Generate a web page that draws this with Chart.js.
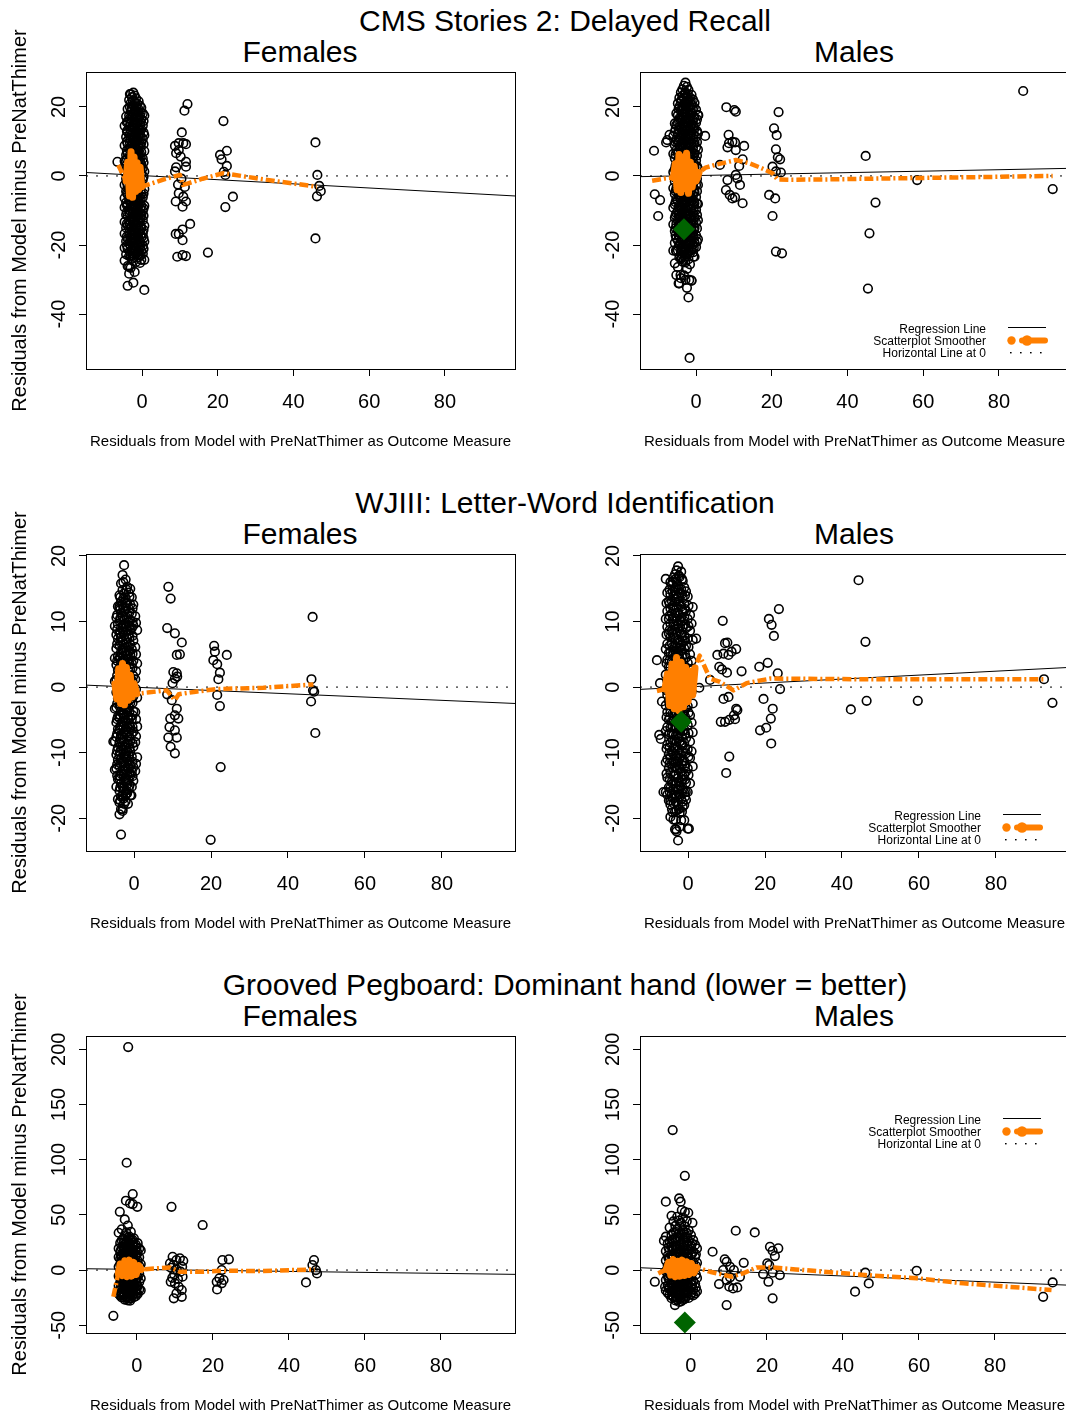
<!DOCTYPE html>
<html>
<head>
<meta charset="utf-8">
<script src="https://cdn.jsdelivr.net/npm/chart.js@4/dist/chart.umd.min.js"></script>
<style>
body { margin: 0; background: #fff; }
#page { position: relative; width: 1066px; height: 1414px; overflow: hidden; background: #fff; }
#page canvas { position: absolute; }
.title { position: absolute; font-family: "Liberation Sans", Arial, sans-serif; font-size: 30px; line-height: 30px; white-space: nowrap; transform: translateX(-50%); color: #000; }
</style>
</head>
<body>
<div id="page"></div>
<script>
//titles and axis texts
let rowTitles = ['CMS Stories 2: Delayed Recall', 'WJIII: Letter-Word Identification', 'Grooved Pegboard: Dominant hand (lower = better)']
let panelTitles = ['Females', 'Males']
let xTitle = 'Residuals from Model with PreNatThimer as Outcome Measure'
let yTitle = 'Residuals from Model minus PreNatThimer'
let legendLabels = ['Regression Line', 'Scatterplot Smoother', 'Horizontal Line at 0']

//tick labels
let xTicks = [0, 20, 40, 60, 80]
let cmsYTicks = [-40, -20, 0, 20]
let wjYTicks = [-20, -10, 0, 10, 20]
let gpYTicks = [-50, 0, 50, 100, 150, 200]

//axis limits of each row
let cmsXRange = [-14.8, 98.5]
let cmsYRange = [-55.9, 30.1]
let wjXRange = [-12.5, 99.0]
let wjYRange = [-25.0, 20.3]
let gpXRange = [-13.4, 99.5]
let gpYRange = [-57, 212]

//---------------- CMS Stories 2 ----------------
//dense column near 0: [x, list of y]
let cmsFemCore = [
    [-4.6, [14.5, 8.8, 4.3, 1.2, -2.6, -6.4, -9.1, -13.3, -16.7, -20.8, -24.5]],
    [-4.2, [17.2, 11.3, 6.1, 3.0, -0.8, -4.4, -7.7, -11.2, -15.0, -18.9, -22.7]],
    [-4.0, [15.5, 13.0, 10.0, 7.4, 4.9, 2.1, -1.9, -5.0, -8.5, -10.4, -13.8, -17.5, -20.1]],
    [-3.8, [19.4, 15.8, 12.7, 9.3, 6.6, 2.8, 0.1, -2.9, -5.4, -8.2, -11.6, -14.3, -18.1, -21.0, -26.1, -31.8]],
    [-3.4, [22.0, 17.5, 14.3, 11.0, 7.9, 4.6, 1.7, -1.5, -4.1, -6.8, -9.9, -12.9, -16.4, -19.6, -23.2, -28.3]],
    [-3.2, [20.0, 16.7, 12.1, 9.6, 6.0, 3.3, 0.0, -2.3, -4.6, -7.4, -11.0, -14.0, -17.0, -19.0, -21.9]],
    [-3.0, [23.6, 21.1, 18.6, 15.5, 13.3, 10.4, 8.5, 5.7, 3.9, 1.0, -0.7, -3.6, -5.3, -8.1, -10.2, -13.1, -15.0, -17.9, -20.2, -23.4, -26.6]],
    [-2.65, [22.8, 19.7, 16.9, 14.1, 11.9, 9.2, 6.8, 4.6, 2.2, -0.1, -2.6, -4.9, -7.4, -9.6, -12.3, -14.6, -16.8, -19.0, -21.5, -24.0]],
    [-2.45, [21.8, 17.3, 13.9, 11.2, 8.0, 4.1, 1.6, -1.2, -3.3, -5.9, -8.3, -10.9, -13.4, -15.7, -18.3, -20.8, -23.1]],
    [-2.3, [24.1, 20.4, 18.2, 14.9, 12.6, 10.6, 7.3, 5.4, 2.6, 0.7, -2.1, -4.0, -6.9, -8.8, -11.8, -14.0, -17.2, -19.3, -22.6, -24.7, -30.9]],
    [-1.95, [23.3, 21.4, 19.0, 16.2, 13.8, 11.4, 8.9, 6.1, 3.5, 1.4, -1.1, -3.3, -6.0, -8.1, -10.9, -13.0, -15.7, -18.2, -21.0, -23.5, -27.8]],
    [-1.75, [21.1, 18.1, 15.5, 12.3, 10.2, 7.6, 5.3, 2.9, 0.4, -1.9, -4.3, -6.5, -9.0, -11.2, -13.9, -16.4, -19.2, -21.7]],
    [-1.6, [22.5, 20.0, 16.8, 14.6, 11.6, 9.5, 6.5, 4.7, 1.8, -0.4, -2.5, -5.3, -7.2, -10.1, -12.0, -15.2, -17.3, -20.4, -22.6, -24.9]],
    [-1.25, [20.9, 17.8, 15.3, 12.9, 10.1, 7.7, 5.1, 2.7, 0.2, -2.0, -4.6, -6.9, -9.4, -11.8, -14.3, -16.9, -19.5, -22.0]],
    [-1.05, [19.6, 17.0, 14.1, 11.8, 9.0, 6.6, 4.4, 1.8, -0.5, -3.0, -5.2, -7.8, -10.3, -12.6, -15.1, -17.6, -20.3]],
    [-0.9, [21.6, 18.5, 16.2, 13.2, 11.1, 8.1, 5.9, 3.1, 1.2, -1.6, -3.7, -6.6, -8.5, -11.4, -13.5, -16.5, -18.3, -21.8, -23.6]],
    [-0.55, [20.3, 17.4, 14.8, 12.1, 9.3, 6.3, 4.0, 1.9, -0.9, -3.0, -5.8, -8.0, -10.7, -12.9, -15.8, -18.9, -20.7, -25.2]],
    [-0.35, [18.4, 15.6, 11.0, 8.4, 5.3, 2.4, -1.4, -3.9, -6.7, -9.6, -12.2, -14.4, -16.9, -19.8, -22.9]],
    [-0.2, [19.8, 16.4, 13.5, 9.6, 6.9, 3.4, 1.0, -2.4, -5.1, -8.6, -11.4, -15.1, -17.8, -21.6, -24.3]],
    [0.2, [18.1, 14.6, 10.8, 5.0, 2.3, -1.1, -6.2, -10.1, -12.8, -16.7, -20.2, -22.5]],
    [0.4, [15.9, 12.6, 9.2, 3.9, -0.2, -5.1, -9.4, -11.5, -15.6, -18.0, -21.1]],
    [0.6, [17.5, 11.8, 7.2, 1.3, -3.8, -8.6, -14.4, -19.0, -24.3, -33.0]]
]
let cmsFemPts = [
    [-6.5, 4.1], [-3.2, 23.7], [-3.4, -26.3],
    [12.0, 20.8], [11.2, 18.9], [10.5, 12.6], [8.7, 8.7], [9.7, 9.5], [10.9, 9.5], [11.6, 9.2], [9.0, 6.6], [9.7, 7.5],
    [10.2, 5.6], [11.6, 4.1], [11.6, 2.7], [9.0, 2.5], [8.7, 1.3], [10.4, -0.8], [9.5, -2.5], [11.3, -3.2], [9.7, -5.0],
    [10.9, -6.0], [8.9, -7.4], [11.6, -7.4], [10.7, -8.9], [12.7, -13.9], [10.7, -15.5], [8.9, -16.8], [9.7, -16.8],
    [10.7, -18.6], [9.3, -23.4], [10.7, -22.9], [11.6, -23.2], [17.4, -22.2],
    [21.5, 15.9], [22.4, 7.3], [20.6, 6.1], [21.0, 4.8], [22.4, 2.9], [22.0, 0.3], [21.6, 1.2], [24.0, -6.0], [22.0, -9.0],
    [45.8, 9.7], [46.3, 0.3], [46.8, -2.9], [47.2, -4.4], [46.2, -5.9], [45.8, -18.1]
]
let cmsFemSmooth = [[-6.3, 3.2], [-4.2, -1.5], [-0.1, -3.1], [3, -2.0], [6, -0.9], [10, 0.3], [10.8, -2.6], [12, -2.2], [16, -0.8], [21.5, 0.8], [28, -0.3], [36, -1.6], [46.2, -3.1]]
let cmsFemBlob = [[-4.2, -1.5], [-3.8, 4.0], [-3.3, -5.8], [-2.9, 7.0], [-2.5, -6.2], [-2.1, 5.5], [-1.7, -4.5], [-1.3, 3.8], [-0.9, -3.9], [-0.5, 2.5], [-0.1, -3.1]]
let cmsFemReg = [[-14.8, 1.0], [98.5, -5.8]]

let cmsMaleCore = [
    [-6.0, [11.6, 6.4, 1.1, -3.5, -9.2, -14.0, -21.6]],
    [-5.6, [15.2, 12.8, 8.9, 5.1, 1.9, -1.6, -5.2, -8.3, -12.1, -16.0, -19.4, -25.3]],
    [-5.4, [13.5, 9.8, 6.2, 2.9, -0.6, -4.4, -7.6, -11.4, -15.1, -17.2]],
    [-5.2, [18.1, 14.8, 10.6, 7.5, 3.5, 0.4, -3.6, -6.7, -10.8, -13.9, -18.0, -21.8, -28.7]],
    [-4.8, [21.0, 17.6, 15.4, 12.1, 9.7, 6.5, 4.0, 1.3, -1.5, -4.3, -7.1, -10.0, -12.8, -15.8, -18.7, -21.5, -26.4]],
    [-4.6, [19.4, 16.2, 13.3, 10.2, 7.3, 4.6, 2.0, -0.9, -3.5, -5.4, -9.1, -11.3, -14.7, -17.0, -20.5]],
    [-4.4, [22.6, 20.1, 16.7, 14.2, 10.9, 8.6, 5.3, 2.9, -0.3, -2.7, -6.0, -8.4, -11.8, -14.1, -17.5, -19.9, -23.6, -31.1]],
    [-4.0, [24.2, 21.5, 18.9, 16.1, 13.6, 11.0, 8.1, 6.5, 3.7, 1.5, -1.2, -3.8, -6.6, -9.0, -11.6, -14.5, -16.8, -19.3, -21.9, -24.0, -29.6]],
    [-3.8, [22.1, 19.3, 16.6, 14.0, 11.7, 9.0, 6.3, 3.6, 1.0, -1.8, -4.2, -6.1, -8.3, -10.9, -13.6, -16.3, -18.5, -21.2, -23.6]],
    [-3.6, [25.1, 23.2, 20.2, 17.9, 15.0, 12.9, 9.9, 7.8, 4.8, 2.7, -0.2, -2.4, -5.4, -7.5, -10.5, -12.6, -15.6, -17.7, -20.7, -22.8, -24.8]],
    [-3.2, [26.1, 22.5, 19.6, 17.0, 14.6, 12.0, 10.6, 8.4, 5.6, 3.3, 0.6, -1.8, -4.5, -6.9, -9.6, -12.0, -14.8, -17.0, -19.9, -22.1, -24.3, -28.8]],
    [-3.0, [23.8, 20.9, 18.3, 15.7, 13.1, 10.2, 7.3, 4.8, 2.0, -0.5, -3.0, -5.6, -8.0, -10.7, -13.2, -15.8, -18.2, -20.9, -23.4]],
    [-2.8, [27.0, 24.2, 21.4, 19.3, 16.3, 14.2, 11.2, 9.1, 6.1, 4.0, 1.0, -1.1, -4.1, -6.2, -9.2, -11.3, -14.3, -16.4, -19.5, -21.5, -25.0, -30.1]],
    [-2.4, [25.8, 23.0, 20.8, 18.2, 15.6, 13.3, 10.5, 8.0, 5.3, 2.9, 0.2, -2.3, -4.9, -7.3, -10.0, -12.4, -15.1, -17.5, -20.2, -22.6, -26.9, -32.4]],
    [-2.2, [23.6, 21.5, 19.0, 16.4, 14.1, 11.5, 9.0, 6.0, 3.6, 0.9, -1.6, -4.1, -6.6, -9.3, -11.7, -14.4, -16.9, -19.6, -22.3]],
    [-2.0, [24.9, 22.0, 19.8, 16.9, 14.7, 11.8, 9.6, 6.7, 4.5, 1.6, -0.6, -3.5, -5.7, -8.6, -10.8, -13.7, -15.9, -18.8, -21.0, -24.1, -35.2]],
    [-1.6, [22.7, 20.2, 18.0, 15.9, 13.2, 10.7, 8.3, 5.6, 3.0, 0.4, -2.2, -4.8, -7.1, -9.5, -12.2, -14.5, -17.2, -19.7, -22.3, -25.6]],
    [-1.4, [21.7, 19.3, 16.5, 14.2, 11.7, 9.1, 6.4, 4.1, 1.6, -1.2, -3.4, -6.2, -8.6, -11.4, -13.8, -16.4, -18.9, -21.6]],
    [-1.2, [23.5, 20.6, 18.2, 15.0, 12.6, 9.4, 7.0, 3.8, 1.4, -1.8, -4.2, -7.4, -9.8, -13.0, -15.4, -18.6, -21.2, -30.3]],
    [-0.8, [22.1, 19.1, 16.2, 13.6, 10.9, 8.2, 5.4, 2.8, -0.1, -2.9, -5.6, -8.4, -11.0, -13.9, -16.6, -19.9, -22.1]],
    [-0.6, [19.9, 16.8, 14.6, 11.9, 9.2, 6.0, 3.5, 0.8, -1.8, -4.6, -7.3, -10.1, -12.8, -15.6, -18.0, -20.8]],
    [-0.4, [21.2, 17.0, 13.7, 9.7, 6.5, 2.5, -0.7, -4.7, -7.9, -11.9, -15.1, -19.2, -23.4]],
    [0.0, [19.2, 15.4, 11.3, 8.3, 4.5, 0.7, -2.6, -6.1, -9.8, -13.5, -17.2, -20.6]],
    [0.25, [16.4, 13.0, 9.8, 5.9, 2.8, -0.9, -4.4, -8.0, -11.3, -15.2, -19.0]],
    [0.5, [17.6, 12.3, 7.6, 2.1, -2.6, -8.1, -12.8, -18.3]]
]
let cmsMalePts = [
    [-11.1, 7.3], [-10.9, -5.3], [-9.5, -7.0], [-10.0, -11.6], [-7.6, 10.4], [-7.9, 9.7], [-7.0, 11.9], [2.4, 11.6], [0.6, 17.6],
    [-4.1, -28.7], [-4.6, -31.1], [-1.8, -30.1], [-1.2, -30.3], [-1.7, -52.7], [-5.3, -21.6], [-0.7, -23.4],
    [8.0, 19.9], [10.1, 19.1], [10.5, 18.6], [8.6, 11.9], [8.7, 9.5], [9.6, 9.9], [10.3, 9.7], [12.7, 8.7], [8.3, 8.3], [10.5, 7.5],
    [6.3, 3.2], [12.3, 4.8], [11.4, 2.9], [10.5, 0.3], [10.9, -0.7], [11.6, -2.6], [8.3, -1.2], [7.9, -4.1], [8.9, -5.5],
    [9.6, -6.5], [10.3, -6.2], [12.3, -7.9],
    [21.8, 18.5], [20.6, 13.8], [21.3, 11.8], [21.1, 7.7], [21.6, 5.4], [22.2, 4.8], [20.2, 2.7], [21.1, 1.3], [22.4, 1.0],
    [19.3, -5.5], [20.9, -6.5], [20.2, -11.6], [21.1, -21.9], [22.7, -22.4],
    [44.8, 5.8], [47.4, -7.7], [45.8, -16.6], [45.4, -32.6], [58.4, -1.2], [86.4, 24.6], [94.2, -3.8]
]
let cmsMaleSmooth = [[-11.6, -1.4], [-8.0, -0.7], [-6.0, -0.5], [0.8, 1.0], [2.5, 2.4], [5, 3.2], [7, 3.7], [10.5, 4.6], [14, 3.7], [17, 2.4], [20.2, 0.8], [21.5, -1.0], [25, -1.1], [35, -1.0], [45.5, -0.8], [58, -0.6], [70.5, -0.4], [94.2, 0]]
let cmsMaleBlob = [[-6.0, -0.5], [-5.5, 3.5], [-5.0, -4.0], [-4.5, 6.2], [-4.0, -4.8], [-3.5, 5.4], [-3.0, -3.6], [-2.5, 6.6], [-2.0, -5.0], [-1.5, 4.0], [-1.0, -3.2], [-0.5, 2.8], [0.0, -1.5], [0.8, 1.0]]
let cmsMaleReg = [[-14.8, -0.2], [98.5, 2.2]]
let cmsMaleMark = [[-3.2, -15.4]]

//---------------- WJIII Letter-Word ----------------
let wjFemCore = [
    [-5.0, [9.3, 4.4, 0.9, -3.3, -8.3, -12.6]],
    [-4.6, [10.6, 8.0, 5.9, 3.4, 1.1, -0.8, -3.1, -5.4, -7.6, -10.3, -12.4, -15.2]],
    [-4.4, [11.0, 8.8, 6.6, 4.0, 1.8, -0.4, -2.5, -4.9, -7.1, -9.7, -11.8, -13.5]],
    [-4.2, [12.3, 9.6, 7.4, 4.7, 2.6, 0.1, -1.7, -4.5, -6.4, -9.2, -11.1, -14.0, -17.1]],
    [-3.8, [14.0, 12.0, 10.1, 8.3, 6.3, 4.4, 2.6, 0.8, -1.0, -2.9, -4.7, -6.6, -8.4, -10.3, -12.1, -14.0, -15.8, -17.6, -19.4]],
    [-3.6, [13.7, 11.8, 10.5, 8.1, 6.8, 4.6, 3.1, 1.1, -0.6, -2.6, -4.3, -6.2, -7.9, -9.9, -11.6, -13.6, -15.3, -17.3]],
    [-3.4, [15.8, 13.0, 11.3, 9.0, 7.5, 5.3, 3.8, 1.6, 0.1, -2.1, -3.6, -5.8, -7.3, -9.5, -11.0, -13.2, -14.7, -16.7, -18.6, -22.5]],
    [-3.0, [17.1, 14.8, 12.6, 10.8, 9.1, 7.0, 5.6, 3.3, 1.9, -0.4, -1.6, -3.9, -5.3, -7.6, -9.0, -11.3, -12.7, -15.1, -16.6, -18.9]],
    [-2.8, [16.0, 13.5, 12.1, 9.5, 8.4, 6.0, 4.7, 2.5, 1.2, -1.2, -2.4, -4.2, -6.0, -8.0, -9.6, -11.6, -13.4, -15.4, -17.0]],
    [-2.6, [18.6, 14.3, 11.6, 10.2, 7.9, 6.5, 4.2, 2.8, 0.5, -0.9, -3.2, -4.6, -6.9, -8.3, -10.6, -12.0, -14.3, -15.7, -17.8]],
    [-2.2, [16.4, 13.6, 12.0, 9.6, 8.4, 6.0, 4.8, 2.3, 1.0, -1.4, -2.7, -5.1, -6.4, -8.8, -10.1, -12.6, -13.9, -16.4, -17.4]],
    [-2.0, [14.9, 12.9, 10.6, 9.2, 6.8, 5.6, 3.2, 2.0, -0.5, -1.8, -3.2, -5.5, -6.9, -9.2, -10.6, -12.9, -14.2, -15.8]],
    [-1.8, [15.3, 12.8, 11.1, 8.8, 7.4, 5.1, 3.7, 1.4, 0.0, -2.3, -3.7, -6.0, -7.4, -9.7, -11.1, -13.4, -14.8, -16.2]],
    [-1.4, [14.4, 12.0, 9.9, 8.0, 6.1, 4.3, 2.4, 0.6, -1.3, -3.1, -5.0, -6.8, -8.7, -10.5, -12.4, -14.2, -15.6]],
    [-1.2, [13.8, 11.4, 9.4, 7.5, 5.5, 3.5, 1.8, -0.2, -2.0, -3.8, -5.6, -7.6, -9.3, -11.4, -13.1, -15.0]],
    [-1.0, [15.0, 12.6, 10.2, 8.7, 6.5, 5.0, 2.8, 1.3, -0.9, -2.4, -4.6, -6.1, -8.3, -9.8, -12.0, -13.5, -16.5]],
    [-0.6, [13.7, 11.2, 9.0, 5.8, 3.6, 0.4, -1.7, -4.9, -7.1, -10.6, -12.9, -15.2]],
    [-0.4, [12.0, 10.0, 7.8, 5.1, 2.9, 0.9, -2.4, -4.3, -6.1, -8.6, -11.4, -13.6]],
    [-0.2, [12.6, 9.4, 7.1, 4.0, 1.7, -1.4, -3.7, -6.8, -9.1, -12.2, -14.3]],
    [0.3, [10.8, 6.1, 1.2, -3.8, -8.4, -12.8]],
    [0.5, [9.8, 5.0, 2.4, -0.3, -4.9, -7.5, -11.7]],
    [0.8, [8.7, 3.6, -1.6, -6.0, -10.7]]
]
let wjFemPts = [
    [-5.4, -8.3], [-3.8, 12.3], [-1.6, -17.8], [-3.0, -18.6], [-2.0, -16.2], [-0.7, -16.5],
    [8.9, 15.3], [9.5, 13.5], [8.6, 9.0], [10.6, 8.2], [12.4, 6.8], [11.1, 4.9], [11.9, 5.0], [10.2, 2.3], [11.1, 2.1],
    [10.6, 1.3], [10.0, 0.6], [11.2, 1.6], [8.6, -1.1], [9.8, -2.0], [11.1, -3.3], [10.6, -4.3], [11.5, -4.8], [9.4, -4.8],
    [9.2, -6.1], [10.6, -6.6], [8.9, -7.7], [11.1, -7.7], [9.5, -9.1], [10.6, -10.1],
    [20.8, 6.3], [21.0, 5.4], [24.1, 4.9], [20.6, 4.1], [21.6, 3.5], [22.3, 2.2], [21.9, 1.2], [21.6, -1.2], [22.3, -2.9],
    [22.5, -12.2], [19.9, -23.3],
    [46.4, 10.7], [46.1, 1.2], [46.5, -0.5], [46.8, -0.7], [46.0, -2.2], [47.1, -7.0]
]
let wjFemSmooth = [[-5.0, 0.5], [0.7, -1.0], [4, -0.8], [8.5, -0.5], [10.6, -2.0], [11.6, -1.1], [16, -0.7], [21.5, -0.3], [33.6, -0.1], [46.6, 0.4]]
let wjFemBlob = [[-5.0, 0.5], [-4.5, -1.8], [-4.0, 2.8], [-3.5, -2.5], [-3.0, 3.6], [-2.5, -2.7], [-2.0, 3.0], [-1.5, -2.0], [-1.0, 1.8], [-0.5, -1.5], [0.0, 0.5], [0.7, -1.0]]
let wjFemReg = [[-12.5, 0.3], [99.0, -2.5]]

let wjMaleCore = [
    [-5.8, [16.5, 10.4, 5.8, 1.9, -2.8, -6.7, -11.5, -16.0]],
    [-5.6, [12.8, 8.0, 3.6, -0.5, -4.6, -9.4, -13.2]],
    [-5.4, [14.4, 11.6, 9.2, 6.6, 4.2, 1.0, -1.2, -3.8, -6.1, -8.8, -11.0, -13.8, -16.4]],
    [-5.0, [13.1, 10.4, 8.2, 5.2, 3.1, 0.1, -2.1, -5.0, -7.2, -10.2, -12.3, -15.3, -17.3]],
    [-4.8, [14.9, 12.7, 10.9, 8.7, 6.3, 4.1, 1.9, -0.5, -2.7, -4.6, -7.0, -9.2, -11.6, -14.0, -16.0]],
    [-4.6, [16.0, 14.2, 12.0, 9.7, 7.6, 5.3, 3.0, 0.8, -1.6, -3.9, -6.2, -8.5, -10.8, -13.1, -15.4, -17.9, -19.8]],
    [-4.2, [15.6, 13.1, 11.2, 8.6, 6.7, 4.0, 2.1, -0.6, -2.5, -5.2, -7.1, -9.8, -11.7, -14.4, -16.3, -18.6]],
    [-4.0, [16.1, 14.6, 12.4, 10.4, 8.1, 6.1, 4.8, 2.5, 0.3, -1.8, -4.0, -6.0, -8.1, -10.1, -12.3, -14.7, -16.9, -19.1]],
    [-3.8, [16.7, 14.0, 11.9, 9.6, 7.6, 5.4, 3.3, 1.2, -0.9, -3.0, -5.1, -7.2, -9.3, -11.4, -13.5, -15.6, -17.7, -20.2]],
    [-3.4, [17.2, 14.7, 13.0, 10.5, 8.8, 6.3, 4.6, 2.1, 0.4, -2.1, -3.8, -6.3, -8.0, -10.5, -12.2, -14.7, -16.4, -19.0, -21.7]],
    [-3.2, [16.5, 15.2, 13.5, 11.3, 9.3, 7.3, 5.2, 3.2, 1.0, -1.0, -3.1, -5.2, -7.4, -9.2, -11.3, -13.4, -15.5, -17.5, -20.3]],
    [-3.0, [17.8, 16.1, 14.1, 12.2, 10.1, 8.1, 6.1, 4.0, 2.0, 0.0, -2.2, -4.2, -6.3, -8.3, -10.4, -12.4, -14.5, -16.6, -18.8, -22.0]],
    [-2.6, [18.4, 15.6, 13.8, 11.3, 9.6, 7.1, 5.4, 2.9, 1.2, -1.3, -3.0, -5.5, -7.2, -9.7, -11.4, -13.9, -15.6, -18.1, -23.4]],
    [-2.4, [17.0, 15.0, 13.1, 11.0, 9.0, 6.8, 4.8, 2.5, 0.6, -1.8, -3.6, -6.0, -7.8, -10.1, -12.0, -14.4, -16.3, -18.6]],
    [-2.2, [16.8, 14.4, 12.7, 10.2, 8.5, 6.0, 4.3, 1.8, 0.1, -2.4, -4.1, -6.6, -8.3, -10.8, -12.5, -15.0, -16.7, -19.2, -21.3]],
    [-1.8, [17.6, 14.9, 12.3, 10.6, 8.1, 6.4, 3.9, 2.2, -0.3, -2.0, -4.5, -6.2, -8.7, -10.4, -12.9, -14.6, -17.1, -20.3]],
    [-1.6, [16.5, 14.2, 11.8, 10.0, 7.6, 5.6, 3.3, 1.2, -0.9, -3.0, -5.4, -7.5, -9.8, -11.9, -14.1, -16.2, -19.0]],
    [-1.4, [16.2, 13.7, 11.5, 9.2, 7.1, 4.9, 2.6, 0.4, -2.0, -4.1, -6.7, -8.9, -11.2, -13.6, -15.7, -18.3]],
    [-1.0, [15.2, 12.7, 10.7, 7.9, 5.9, 3.1, 1.1, -1.7, -3.7, -6.5, -8.5, -11.3, -13.3, -16.1, -18.0]],
    [-0.8, [14.0, 11.9, 9.6, 7.1, 5.0, 2.4, 0.1, -2.4, -4.5, -7.1, -9.3, -12.0, -14.1, -16.7]],
    [-0.55, [14.6, 11.6, 9.0, 6.3, 4.5, 1.9, -0.6, -3.2, -5.0, -7.8, -10.1, -12.9, -14.6, -17.2]],
    [-0.1, [13.8, 10.4, 7.4, 3.7, 0.8, -2.9, -5.8, -9.5, -12.4, -16.0, -21.6]],
    [0.1, [12.4, 9.3, 6.1, 2.8, -0.4, -3.9, -7.0, -10.6, -13.4]],
    [0.5, [11.0, 8.6, 5.0, 0.7, -4.3, -8.3, -10.8, -14.7]],
    [0.9, [9.7, 4.0, -0.7, -5.4, -9.8]],
    [1.2, [12.2, 7.2, 2.8, -2.5, -6.9, -12.1]]
]
let wjMalePts = [
    [-8.1, 4.1], [-6.8, -2.2], [-7.5, -7.3], [-7.1, -7.9], [-7.3, 0.6], [2.9, -0.1], [2.1, 7.4], [-3.1, -21.7], [0.2, -21.6],
    [-1.0, -20.3], [-6.4, -16.0], [-4.6, -17.3], [-1.5, -17.5], [-0.6, -16.0],
    [9.0, 10.1], [9.6, 6.7], [10.2, 6.8], [7.6, 4.9], [9.2, 5.1], [10.5, 4.9], [12.5, 5.8], [11.3, 5.4], [8.1, 3.1], [8.8, 2.7],
    [10.1, 2.2], [13.9, 2.4], [5.7, 1.1], [9.2, -1.8], [10.5, -1.5], [12.5, -3.3], [12.8, -3.5], [11.9, -4.3], [8.5, -5.3],
    [9.6, -5.3], [10.7, -5.0], [12.2, -4.9], [10.7, -10.6], [9.9, -13.1],
    [21.0, 10.4], [21.7, 9.5], [22.3, 7.8], [23.6, 11.9], [18.5, 3.1], [20.7, 3.7], [23.3, 2.1], [23.9, -0.3], [19.6, -1.8],
    [22.0, -3.3], [21.5, -4.8], [20.3, -6.2], [18.7, -6.6], [21.6, -8.6],
    [44.3, 16.3], [46.1, 6.9], [42.3, -3.4], [46.4, -2.1], [59.7, -2.1], [92.5, 1.2], [94.7, -2.4]
]
let wjMaleSmooth = [[-8.1, -0.6], [-6.0, -0.3], [1.8, 2.9], [3.0, 4.8], [5.7, 1.3], [8.3, 0.8], [11.8, -0.5], [15.2, 0.6], [19.6, 1.1], [21.5, 1.3], [45, 1.2], [60, 1.2], [92.5, 1.2]]
let wjMaleBlob = [[-6.0, -0.3], [-5.4, 2.0], [-4.8, -2.8], [-4.2, 3.5], [-3.6, -3.3], [-3.0, 4.5], [-2.4, -3.6], [-1.8, 3.8], [-1.2, -3.0], [-0.6, 3.0], [0.0, -2.2], [0.6, 2.4], [1.2, -1.2], [1.8, 2.9]]
let wjMaleReg = [[-12.5, -0.35], [99.0, 3.0]]
let wjMaleMark = [[-1.8, -5.3]]

//---------------- Grooved Pegboard ----------------
let gpFemCore = [
    [-4.8, [33.8, 19.6, 11.8, 2.9, -5.3, -14.2, -21.5]],
    [-4.4, [24.6, 16.5, 10.1, 5.2, -0.4, -5.9, -11.2, -17.0, -23.1]],
    [-4.2, [18.0, 12.9, 7.0, 0.5, -3.9, -10.0, -15.6, -20.6]],
    [-4.0, [36.9, 27.0, 20.1, 13.2, 8.2, 2.1, -2.8, -8.8, -13.9, -20.1, -24.8]],
    [-3.6, [28.4, 21.3, 15.0, 9.9, 4.7, -0.1, -5.0, -10.2, -14.9, -19.6, -24.3]],
    [-3.4, [25.0, 18.5, 12.6, 7.1, 1.2, -3.5, -8.1, -12.9, -17.5, -22.5]],
    [-3.2, [45.9, 31.5, 23.4, 17.9, 12.0, 7.7, 2.3, -1.9, -7.4, -11.5, -16.8, -21.0, -26.7]],
    [-2.8, [34.1, 25.8, 19.9, 14.4, 9.6, 4.8, -0.4, -5.2, -9.8, -14.8, -19.4, -24.5]],
    [-2.6, [27.0, 21.0, 15.2, 10.4, 3.5, -2.6, -6.8, -11.1, -16.3, -21.2, -25.4]],
    [-2.4, [40.3, 29.2, 22.4, 16.1, 11.3, 5.5, 1.2, -4.2, -8.3, -13.7, -17.9, -23.3, -27.5]],
    [-2.0, [30.3, 24.0, 18.7, 13.2, 8.5, 3.0, -1.0, -6.5, -10.6, -16.1, -20.3, -25.8]],
    [-1.8, [28.5, 21.8, 16.4, 10.9, 6.2, 0.6, -4.4, -8.9, -13.2, -17.7, -22.6]],
    [-1.6, [34.7, 26.5, 19.6, 14.4, 8.4, 3.8, -1.8, -6.1, -11.6, -15.8, -21.3, -25.6]],
    [-1.2, [27.5, 22.6, 17.3, 11.8, 6.4, 1.6, -3.3, -8.5, -13.6, -18.4, -23.2]],
    [-1.0, [24.8, 18.4, 13.1, 7.8, 2.9, -2.5, -7.0, -12.1, -17.1, -20.2]],
    [-0.8, [28.8, 21.2, 15.5, 9.3, 4.6, -1.1, -5.6, -11.3, -15.7, -21.5, -24.5]],
    [-0.3, [23.1, 17.8, 12.4, 7.0, 2.0, -3.2, -8.8, -13.3, -18.6, -23.7]],
    [-0.1, [20.5, 14.0, 5.3, -0.9, -7.3, -11.8, -16.7, -20.9]],
    [0.2, [24.4, 15.6, 8.5, 0.4, -6.5, -14.6, -21.6]],
    [0.6, [19.6, 11.5, 3.9, -3.4, -10.9, -17.5]],
    [1.0, [17.8, 5.4, -7.6, -18.3]]
]
let gpFemPts = [
    [-2.3, 202], [-2.7, 97.2], [-1.1, 68.8], [-2.9, 62.8], [-1.8, 60.4], [0.1, 57.3], [-1.1, 59.8], [-4.5, 52.8],
    [-1.8, -27.8], [-6.2, -41.4],
    [9.1, 57.3], [9.4, 12.0], [11.3, 10.6], [10.4, 9.1], [12.2, 8.4], [8.7, 6.1], [9.6, 4.5], [11.9, 3.0], [9.0, 2.0],
    [10.5, 0.5], [11.5, -1.5], [9.8, -4.0], [12.0, -6.0], [9.3, -7.0], [10.8, -8.0], [8.9, -10.6], [10.0, -12.0],
    [11.0, -15.1], [11.8, -18.1], [10.4, -21.1], [9.7, -25.6], [11.8, -24.2], [17.3, 40.8],
    [22.5, 9.1], [24.2, 9.7], [22.3, 0.0], [21.7, -7.5], [22.8, -9.0], [21.0, -10.6], [22.3, -12.0], [21.1, -17.5],
    [46.6, 9.1], [46.2, 4.5], [47.1, 0.0], [47.4, -3.0], [44.5, -11.2]
]
let gpFemSmooth = [[-6.2, -24.2], [-4.9, -3.0], [1.2, 0.6], [8.7, 2.4], [11.3, -1.5], [17.5, -1.5], [22.7, -0.6], [33, -0.9], [46.8, 0.6]]
let gpFemBlob = [[-4.9, -3.0], [-4.4, 5.5], [-3.8, -5.0], [-3.2, 8.5], [-2.6, -6.0], [-2.0, 9.0], [-1.4, -5.5], [-0.8, 7.0], [-0.2, -4.0], [0.5, 4.0], [1.2, 0.6]]
let gpFemReg = [[-13.4, 1.2], [99.5, -3.9]]

let gpMaleCore = [
    [-6.6, [30.2, 17.2, 8.6, -0.9, -9.1, -18.5]],
    [-6.1, [24.1, 13.2, 4.0, -5.1, -13.8, -20.6]],
    [-5.9, [20.3, 10.9, 1.6, -7.3, -16.3]],
    [-5.6, [38.5, 25.6, 17.5, 9.8, 3.7, -3.2, -9.0, -16.1, -22.4]],
    [-5.1, [31.8, 21.4, 13.8, 6.9, 0.3, -6.0, -12.6, -19.2, -25.5]],
    [-4.9, [27.5, 18.9, 10.7, 4.2, -2.7, -9.6, -16.3, -22.9]],
    [-4.6, [44.1, 33.9, 24.5, 18.2, 11.2, 5.7, -0.8, -6.1, -12.6, -17.8, -24.3]],
    [-4.1, [40.0, 29.1, 21.8, 14.9, 8.3, 2.5, -3.6, -9.4, -15.4, -21.2, -27.5]],
    [-3.9, [34.5, 26.4, 18.6, 11.9, 5.6, -0.9, -7.3, -12.9, -18.9, -24.6]],
    [-3.6, [48.2, 37.1, 29.2, 21.3, 15.4, 8.6, 3.2, -3.3, -8.6, -15.1, -20.4, -26.9]],
    [-3.1, [44.9, 33.3, 25.7, 18.6, 12.2, 5.8, -0.2, -6.1, -11.8, -17.7, -23.4, -28.9]],
    [-2.9, [38.9, 29.9, 22.6, 15.6, 9.1, 2.6, -3.4, -9.2, -14.8, -20.5, -26.2]],
    [-2.6, [42.7, 32.8, 24.3, 18.1, 11.1, 5.5, -1.1, -6.4, -12.9, -18.2, -24.7, -28.3]],
    [-2.1, [47.6, 36.2, 27.7, 20.9, 14.3, 8.1, 2.0, -3.9, -9.7, -15.6, -21.5, -27.0]],
    [-1.9, [34.0, 25.2, 17.6, 11.2, 4.9, -1.0, -7.0, -12.9, -18.8, -24.4]],
    [-1.6, [39.5, 30.1, 21.7, 15.6, 8.7, 3.1, -3.5, -8.9, -15.4, -20.7, -26.0]],
    [-1.1, [44.3, 33.8, 24.5, 17.6, 11.8, 5.9, -0.1, -6.0, -12.1, -18.0, -23.6]],
    [-0.9, [29.9, 21.6, 14.6, 8.8, 2.8, -3.1, -9.1, -15.1, -21.0]],
    [-0.6, [35.8, 26.0, 19.0, 11.6, 5.8, -1.1, -6.7, -13.5, -19.1, -25.3]],
    [0.0, [31.7, 22.1, 13.8, 7.9, 2.0, -4.0, -10.0, -16.2, -22.1]],
    [0.3, [24.0, 14.8, 4.8, -3.3, -13.6, -20.3]],
    [0.6, [27.1, 16.7, 7.3, -0.6, -9.8, -17.7, -23.0]],
    [1.1, [22.8, 11.9, 1.5, -12.4, -21.3]],
    [1.3, [14.3, 3.9, -4.1, -15.9]],
    [1.6, [19.6, 6.6, -7.1, -19.2]]
]
let gpMalePts = [
    [-4.8, 126.8], [-1.6, 85.4], [-3.1, 64.9], [-2.7, 61.9], [-6.6, 61.9], [-5.1, 49.2], [-1.6, 52.8], [-0.7, 51.9],
    [0.4, 42.8], [-2.4, 54.3], [-7.1, 26.6], [-9.5, -10.6], [-6.8, -15.1], [5.7, 16.6], [-4.2, -31.7],
    [11.8, 35.6], [16.8, 34.1], [13.9, 6.6], [8.9, 9.7], [9.4, 7.5], [10.3, 3.0], [11.3, 0.0], [8.5, 0.0], [7.4, -12.7],
    [9.4, -9.1], [10.1, -15.1], [11.1, -16.6], [12.2, -15.7], [12.9, -6.1], [10.3, -6.6], [9.4, -31.7],
    [20.8, 21.1], [21.5, 17.5], [23.0, 19.7], [22.1, 12.7], [20.1, 6.1], [20.6, 4.5], [19.0, -3.6], [23.4, -4.5],
    [21.5, -2.4], [20.4, -10.6], [21.5, -25.6],
    [43.2, -19.6], [45.9, -2.4], [46.8, -12.1], [59.4, -0.6], [92.7, -24.2], [95.2, -11.2]
]
let gpMaleSmooth = [[-8.6, -3.0], [-6.5, 0.5], [1.5, 2.4], [5.0, -1.5], [10.7, -6.0], [13.7, -3.0], [17.3, 2.4], [21.7, 2.4], [27.6, 0.6], [45.8, -4.5], [59.4, -7.5], [71.7, -12.0], [94.9, -18.1]]
let gpMaleBlob = [[-6.5, 0.5], [-5.9, 7.0], [-5.3, -4.5], [-4.7, 9.5], [-4.1, -6.0], [-3.5, 8.0], [-2.9, -5.5], [-2.3, 9.0], [-1.7, -5.0], [-1.1, 7.5], [-0.5, -4.0], [0.1, 6.0], [0.8, -2.5], [1.5, 2.4]]
let gpMaleReg = [[-13.4, 2.1], [99.5, -13.7]]
let gpMaleMark = [[-1.6, -47.4]]

//---------------- layout ----------------
let fontFamily = '"Liberation Sans", Arial, Helvetica, sans-serif'
let orange = '#FF7F00'
let green = '#006400'
let rowHeight = 482
let canvasW = 540
let canvasH = 482
let panelLeft = [0, 554]

let rows = [
    {xRange: cmsXRange, yRange: cmsYRange, yTicks: cmsYTicks, legend: {dx: 346, dy: 258}},
    {xRange: wjXRange, yRange: wjYRange, yTicks: wjYTicks, legend: {dx: 341, dy: 263}},
    {xRange: gpXRange, yRange: gpYRange, yTicks: gpYTicks, legend: {dx: 341, dy: 85}}
]
let panels = [
    {row: 0, side: 0, core: cmsFemCore, pts: cmsFemPts, smooth: cmsFemSmooth, blob: cmsFemBlob, reg: cmsFemReg},
    {row: 0, side: 1, core: cmsMaleCore, pts: cmsMalePts, smooth: cmsMaleSmooth, blob: cmsMaleBlob, reg: cmsMaleReg, mark: cmsMaleMark},
    {row: 1, side: 0, core: wjFemCore, pts: wjFemPts, smooth: wjFemSmooth, blob: wjFemBlob, reg: wjFemReg},
    {row: 1, side: 1, core: wjMaleCore, pts: wjMalePts, smooth: wjMaleSmooth, blob: wjMaleBlob, reg: wjMaleReg, mark: wjMaleMark},
    {row: 2, side: 0, core: gpFemCore, pts: gpFemPts, smooth: gpFemSmooth, blob: gpFemBlob, reg: gpFemReg},
    {row: 2, side: 1, core: gpMaleCore, pts: gpMalePts, smooth: gpMaleSmooth, blob: gpMaleBlob, reg: gpMaleReg, mark: gpMaleMark}
]

let page = document.getElementById('page')

//turning [x, y] pairs into chart points
function toXY(list) {
    return list.map(function(p) { return {x: p[0], y: p[1]} })
}
//turning the dense column lanes into chart points
function flattenCore(lanes) {
    let out = []
    lanes.forEach(function(lane) {
        lane[1].forEach(function(y) { out.push({x: lane[0], y: y}) })
    })
    return out
}

function addTitle(text, left, top) {
    let el = document.createElement('div')
    el.className = 'title'
    el.textContent = text
    el.style.left = left + 'px'
    el.style.top = top + 'px'
    page.appendChild(el)
}

//small R style legend in the male panels
function drawLegend(ctx, a, lg) {
    let tx = a.left + lg.dx
    let ty = a.top + lg.dy
    ctx.font = '12px ' + fontFamily
    ctx.fillStyle = '#000'
    ctx.textAlign = 'right'
    ctx.textBaseline = 'middle'
    legendLabels.forEach(function(t, i) { ctx.fillText(t, tx, ty + i * 12) })
    let sx = tx + 22
    //regression line
    ctx.strokeStyle = '#000'
    ctx.lineWidth = 1
    ctx.beginPath()
    ctx.moveTo(sx, ty - 2.5)
    ctx.lineTo(sx + 38, ty - 2.5)
    ctx.stroke()
    //smoother
    ctx.fillStyle = orange
    ctx.beginPath()
    ctx.arc(sx + 3.5, ty + 10.5, 4.2, 0, Math.PI * 2)
    ctx.fill()
    ctx.strokeStyle = orange
    ctx.lineWidth = 6
    ctx.lineCap = 'round'
    ctx.beginPath()
    ctx.moveTo(sx + 14, ty + 10.5)
    ctx.lineTo(sx + 37, ty + 10.5)
    ctx.stroke()
    ctx.beginPath()
    ctx.arc(sx + 19, ty + 10.5, 5.2, 0, Math.PI * 2)
    ctx.fill()
    //dotted zero line
    ctx.fillStyle = '#000'
    for (let k = 0; k < 4; k++) {
        ctx.fillRect(sx + 2 + k * 10, ty + 22, 1.6, 1.4)
    }
}

//box, rotated y labels and legend, drawn after the points
function rStyle(yTicks, legend) {
    return {
        id: 'rStyle',
        afterDatasetsDraw: function(chart) {
            let ctx = chart.ctx
            let a = chart.chartArea
            ctx.save()
            ctx.strokeStyle = '#000'
            ctx.lineWidth = 1
            ctx.strokeRect(Math.round(a.left) + 0.5, Math.round(a.top) + 0.5, Math.round(a.right - a.left), Math.round(a.bottom - a.top))
            let ys = chart.scales.y
            ctx.font = '20px ' + fontFamily
            ctx.fillStyle = '#000'
            ctx.textAlign = 'center'
            ctx.textBaseline = 'middle'
            yTicks.forEach(function(v) {
                ctx.save()
                ctx.translate(a.left - 27, ys.getPixelForValue(v))
                ctx.rotate(-Math.PI / 2)
                ctx.fillText(String(v), 0, 0)
                ctx.restore()
            })
            if (legend) drawLegend(ctx, a, legend)
            ctx.restore()
        }
    }
}

//row and panel titles
rowTitles.forEach(function(t, r) {
    addTitle(t, 565, r * rowHeight + 6)
    addTitle(panelTitles[0], 300, r * rowHeight + 37)
    addTitle(panelTitles[1], 854, r * rowHeight + 37)
})

panels.forEach(function(p) {
    let row = rows[p.row]
    let canvas = document.createElement('canvas')
    canvas.width = canvasW
    canvas.height = canvasH
    canvas.style.left = panelLeft[p.side] + 'px'
    canvas.style.top = (p.row * rowHeight) + 'px'
    page.appendChild(canvas)

    let datasets = [
        {
            label: 'points', data: toXY(p.pts).concat(flattenCore(p.core)), order: 6,
            pointStyle: 'circle', pointRadius: 4.3, borderColor: '#000', borderWidth: 1.6, backgroundColor: 'rgba(0,0,0,0)'
        },
        {
            label: 'zero', data: toXY([[row.xRange[0], 0], [row.xRange[1], 0]]), order: 5, showLine: true,
            pointRadius: 0, borderColor: '#000', borderWidth: 1, borderDash: [2, 8]
        },
        {
            label: 'regression', data: toXY(p.reg), order: 4, showLine: true,
            pointRadius: 0, borderColor: '#000', borderWidth: 1
        },
        {
            label: 'smoother', data: toXY(p.smooth), order: 3, showLine: true, pointRadius: 0,
            borderColor: orange, borderWidth: 4.5, borderDash: [9, 3, 2, 3], borderJoinStyle: 'round'
        },
        {
            label: 'smoother core', data: toXY(p.blob), order: 2, showLine: true, pointRadius: 0,
            borderColor: orange, borderWidth: 7, borderJoinStyle: 'round', borderCapStyle: 'round'
        }
    ]
    if (p.mark) {
        datasets.push({
            label: 'mark', data: toXY(p.mark), order: 1, pointStyle: 'rectRot', pointRadius: 11,
            backgroundColor: green, borderColor: green, borderWidth: 0
        })
    }

    new Chart(canvas.getContext('2d'), {
        type: 'scatter',
        data: {datasets: datasets},
        options: {
            responsive: false,
            animation: false,
            events: [],
            layout: {padding: {left: 0, top: 72, right: canvasW - 515, bottom: 0}},
            plugins: {legend: {display: false}, tooltip: {enabled: false}},
            scales: {
                x: {
                    type: 'linear', min: row.xRange[0], max: row.xRange[1],
                    afterBuildTicks: function(s) { s.ticks = xTicks.map(function(v) { return {value: v} }) },
                    afterFit: function(s) { s.height = canvasH - 369 },
                    grid: {drawOnChartArea: false, drawTicks: true, tickLength: 7, color: '#000', lineWidth: 1},
                    border: {display: false},
                    ticks: {color: '#000', font: {family: fontFamily, size: 20}, padding: 14, maxRotation: 0, autoSkip: false},
                    title: {display: true, text: xTitle, color: '#000', font: {family: fontFamily, size: 15}, padding: {top: 0, bottom: 31}}
                },
                y: {
                    type: 'linear', min: row.yRange[0], max: row.yRange[1],
                    afterBuildTicks: function(s) { s.ticks = row.yTicks.map(function(v) { return {value: v} }) },
                    afterFit: function(s) { s.width = 86 },
                    grid: {drawOnChartArea: false, drawTicks: true, tickLength: 7, color: '#000', lineWidth: 1},
                    border: {display: false},
                    ticks: {display: false},
                    title: {display: p.side === 0, text: yTitle, color: '#000', font: {family: fontFamily, size: 20}, padding: {top: 8, bottom: 0}}
                }
            }
        },
        plugins: [rStyle(row.yTicks, p.side === 1 ? row.legend : null)]
    })
})
</script>
</body>
</html>
